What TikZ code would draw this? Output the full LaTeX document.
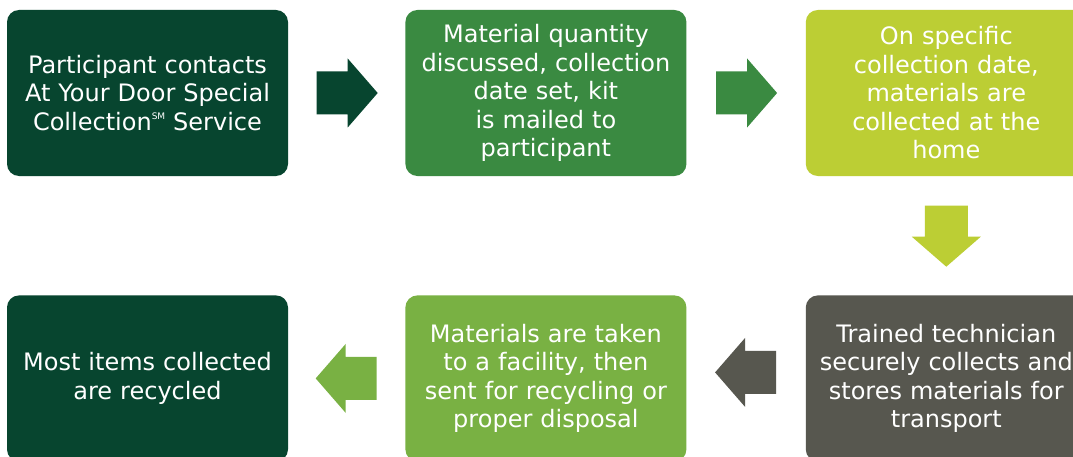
\documentclass[tikz,border=0pt]{standalone}
\usepackage{fontspec}
\setmainfont{DejaVu Sans}
\usetikzlibrary{positioning}
\definecolor{darkgreen}{HTML}{07452F}
\definecolor{midgreen}{HTML}{3A8A41}
\definecolor{lime}{HTML}{BCCE34}
\definecolor{stonegrey}{HTML}{57574F}
\definecolor{leafgreen}{HTML}{79B143}
\newcommand{\svcmark}{\raisebox{0.45em}{\fontsize{9}{9}\selectfont SM}}
\tikzset{
  stepbox/.style={fill=#1,rounded corners=12pt,minimum width=281pt,minimum height=166pt,
    text width=281pt,align=center,text=white,inner sep=0pt,
    font=\fontsize{24}{28.5}\selectfont},
  pics/blockarr/.style={code={
    \fill[#1] (-30,-21.5) -- (1,-21.5) -- (1,-34.5) -- (31,0) -- (1,34.5) -- (1,21.5) -- (-30,21.5) -- cycle;
  }}
}

\begin{document}
\begin{tikzpicture}[x=1pt,y=1pt]
  \useasboundingbox[fill=white] (0,0) rectangle (1073,456);

  % top row
  \node[stepbox=darkgreen] (contact) at (147.5,363) {Participant contacts\\At Your Door Special\\Collection\svcmark\ Service};
  \node[stepbox=midgreen,right=117pt of contact] (mailkit) {Material quantity\\discussed, collection\\date set, kit\\is mailed to\\participant};
  \node[stepbox=lime,right=119pt of mailkit] (pickup) {On specific\\collection date,\\materials are\\collected at the\\home};

  % bottom row
  \node[stepbox=stonegrey,below=119pt of pickup] (store) {Trained technician\\securely collects and\\stores materials for\\transport};
  \node[stepbox=leafgreen,left=119pt of store] (facility) {Materials are taken\\to a facility, then\\sent for recycling or\\proper disposal};
  \node[stepbox=darkgreen,left=117pt of facility] (recycled) {Most items collected\\are recycled};

  % arrows between the boxes
  \path (contact) -- coordinate[midway] (a1) (mailkit);
  \path (mailkit) -- coordinate[midway] (a2) (pickup);
  \path (pickup) -- coordinate[midway] (a3) (store);
  \path (store) -- coordinate[midway] (a4) (facility);
  \path (facility) -- coordinate[midway] (a5) (recycled);

  \pic at (a1) {blockarr=darkgreen};
  \pic at (a2) {blockarr=midgreen};
  \pic[rotate=-90] at (a3) {blockarr=lime};
  \pic[rotate=180] at ([yshift=6pt]a4) {blockarr=stonegrey};
  \pic[rotate=180] at (a5) {blockarr=leafgreen};
\end{tikzpicture}
\end{document}
